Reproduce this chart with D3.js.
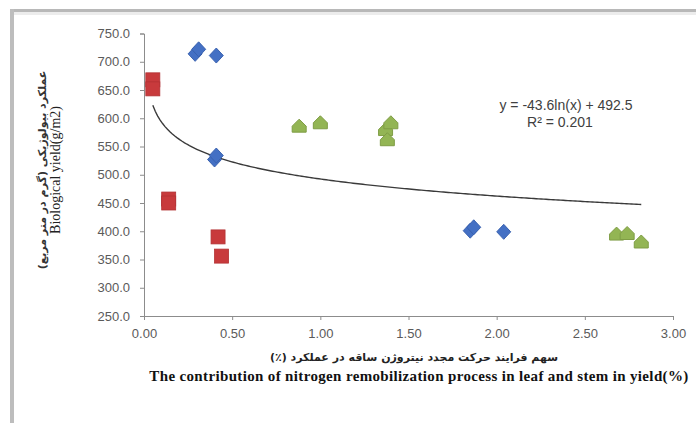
<!DOCTYPE html>
<html>
<head>
<meta charset="utf-8">
<script src="https://cdn.jsdelivr.net/npm/d3@7/dist/d3.min.js"></script>
<style>
  html, body { margin: 0; padding: 0; background: #fff; }
  svg { display: block; }
</style>
</head>
<body>
<svg id="chart" width="696" height="423"></svg>
<script>
// Axis ticks
const xTicks = [0, 0.5, 1, 1.5, 2, 2.5, 3];
const yTicks = [250, 300, 350, 400, 450, 500, 550, 600, 650, 700, 750];

// Series 1 (blue diamonds)
const blueX = [0.29, 0.31, 0.41, 0.40, 0.41, 1.85, 1.87, 2.04];
const blueY = [714, 722, 711, 527, 534, 401, 407, 399];

// Series 2 (red squares)
const redX = [0.05, 0.05, 0.14, 0.14, 0.42, 0.44];
const redY = [668, 652, 457, 450, 390, 356];

// Series 3 (green triangles)
const greenX = [0.88, 1.00, 1.37, 1.38, 1.40, 2.68, 2.74, 2.82];
const greenY = [586, 592, 580, 562, 592, 395, 396, 381];

// Logarithmic trend: y = a*ln(x) + b
const trendA = -43.6;
const trendB = 492.5;
const trendR2 = 0.201;
const trendRange = [0.05, 2.82];

const svg = d3.select("#chart");

// Outer frame of the chart area
svg.append("rect").attr("x", 0).attr("y", 0).attr("width", 696).attr("height", 423).attr("fill", "#fff");
svg.append("rect").attr("x", 10).attr("y", 9).attr("width", 700).attr("height", 3).attr("fill", "#b8b8b8");
svg.append("rect").attr("x", 10).attr("y", 12).attr("width", 700).attr("height", 3).attr("fill", "#ececec");
svg.append("rect").attr("x", 10).attr("y", 9).attr("width", 4).attr("height", 430).attr("fill", "#bdbdbd");

const x = d3.scaleLinear().domain([0, 3]).range([144, 673]);
const y = d3.scaleLinear().domain([250, 750]).range([316, 33.5]);

// Axes
const axisColor = "#8c8c8c";
const xAxis = svg.append("g").attr("transform", `translate(0,${y(250)})`)
  .call(d3.axisBottom(x).tickValues(xTicks).tickFormat(d3.format(".2f")).tickSize(4).tickPadding(9));
const yAxis = svg.append("g").attr("transform", `translate(${x(0)},0)`)
  .call(d3.axisLeft(y).tickValues(yTicks).tickFormat(d3.format(".1f")).tickSize(4).tickPadding(10));

[xAxis, yAxis].forEach(g => {
  g.select(".domain").attr("stroke", axisColor).attr("stroke-width", 1);
  g.selectAll(".tick line").attr("stroke", axisColor);
  g.selectAll(".tick text")
    .attr("fill", "#5a5a5a")
    .style("font-family", "'Liberation Sans', Arial, sans-serif")
    .style("font-size", "13px");
});

// Trend line
const trendPts = d3.range(0, 201).map(i => trendRange[0] + (trendRange[1] - trendRange[0]) * i / 200);
svg.append("path")
  .datum(trendPts)
  .attr("fill", "none")
  .attr("stroke", "#3a3a3a")
  .attr("stroke-width", 1.4)
  .attr("d", d3.line().x(d => x(d)).y(d => y(trendA * Math.log(d) + trendB)));

// Markers
const blue = blueX.map((v, i) => [v, blueY[i]]);
const red = redX.map((v, i) => [v, redY[i]]);
const green = greenX.map((v, i) => [v, greenY[i]]);

svg.append("g").selectAll("path").data(blue).join("path")
  .attr("transform", d => `translate(${x(d[0])},${y(d[1])})`)
  .attr("d", "M0,-7.5L7,0L0,7.5L-7,0Z")
  .attr("fill", "#4470c4")
  .attr("stroke", "#3a62b0").attr("stroke-width", 1).attr("stroke-linejoin", "round");

svg.append("g").selectAll("rect").data(red).join("rect")
  .attr("x", d => x(d[0]) - 7).attr("y", d => y(d[1]) - 7)
  .attr("width", 14).attr("height", 14)
  .attr("fill", "#c83a3c")
  .attr("stroke", "#b23234").attr("stroke-width", 0.8);

svg.append("g").selectAll("path").data(green).join("path")
  .attr("transform", d => `translate(${x(d[0])},${y(d[1])})`)
  .attr("d", "M0,-7L7,0L7,6L-7,6L-7,0Z")
  .attr("fill", "#93b554")
  .attr("stroke", "#7f9d45").attr("stroke-width", 1);

// Trend equation
const eqFont = "'Liberation Sans', Arial, sans-serif";
svg.append("text").attr("x", 566).attr("y", 110).attr("text-anchor", "middle")
  .style("font-family", eqFont).style("font-size", "14px").attr("fill", "#404040")
  .text(`y = ${trendA}ln(x) + ${trendB}`);
svg.append("text").attr("x", 560).attr("y", 127).attr("text-anchor", "middle")
  .style("font-family", eqFont).style("font-size", "14px").attr("fill", "#404040")
  .text(`R² = ${trendR2}`);

// Y axis titles
svg.append("text")
  .attr("transform", "translate(46,170) rotate(-90)")
  .attr("text-anchor", "middle")
  .attr("direction", "rtl")
  .style("font-family", "'DejaVu Sans', sans-serif").style("font-size", "11px").style("font-weight", "bold")
  .attr("fill", "#333")
  .text("عملکرد بیولوژیکی (گرم در متر مربع)");
svg.append("text")
  .attr("transform", "translate(60,170) rotate(-90)")
  .attr("text-anchor", "middle")
  .style("font-family", "'Liberation Serif', 'Times New Roman', serif").style("font-size", "14px")
  .attr("fill", "#222")
  .text("Biological yield(g/m2)");

// X axis titles
svg.append("text")
  .attr("x", 414).attr("y", 361)
  .attr("text-anchor", "middle")
  .attr("direction", "rtl")
  .style("font-family", "'DejaVu Sans', sans-serif").style("font-size", "11px").style("font-weight", "bold")
  .attr("fill", "#222")
  .text("سهم فرایند حرکت مجدد نیتروژن ساقه در عملکرد (٪)");
svg.append("text")
  .attr("x", 419).attr("y", 381)
  .attr("text-anchor", "middle")
  .style("font-family", "'Liberation Serif', 'Times New Roman', serif").style("font-size", "15px").style("font-weight", "bold")
  .style("letter-spacing", "0.35px")
  .attr("fill", "#111")
  .text("The contribution of nitrogen remobilization process in leaf and stem in yield(%)");
</script>
</body>
</html>
